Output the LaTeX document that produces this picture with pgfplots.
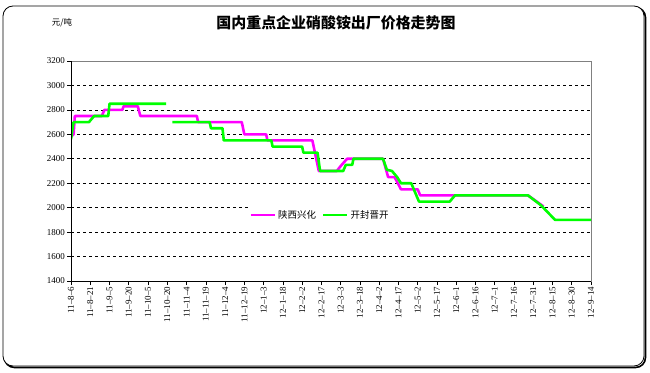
\documentclass[border=0pt]{standalone}
\usepackage{fontspec}
\setmainfont{Liberation Serif}
\newfontfamily\cjk{Noto Sans CJK SC}
\usepackage{pgfplots}
\pgfplotsset{compat=1.18}
\definecolor{mag}{RGB}{255,0,255}
\definecolor{grn}{RGB}{0,255,0}
\begin{document}
\begin{tikzpicture}[x=1bp,y=1bp]
\path[use as bounding box] (0,0) rectangle (650,372);
\draw[black, line width=1.6bp, rounded corners=10bp] (4.5,4.5) rectangle (645.5,364.5);
\draw[black, fill=white, line width=0.8bp, rounded corners=10bp] (3,6) rectangle (644,366);
\node at (336,349) {\cjk\bfseries\fontsize{15}{18}\selectfont 国内重点企业硝酸铵出厂价格走势图};
\node at (62,349) {\cjk\fontsize{8.5}{10}\selectfont 元/吨};
\begin{axis}[
  at={(71bp,91bp)}, anchor=south west,
  scale only axis, width=520bp, height=220bp,
  xmin=0, xmax=405, ymin=1400, ymax=3200,
  xtick={0,15,...,405},
  xticklabels={11--8--6,11--8--21,11--9--5,11--9--20,11--10--5,11--10--20,11--11--4,11--11--19,11--12--4,11--12--19,12--1--3,12--1--18,12--2--2,12--2--17,12--3--3,12--3--18,12--4--2,12--4--17,12--5--2,12--5--17,12--6--1,12--6--16,12--7--1,12--7--16,12--7--31,12--8--15,12--8--30,12--9--14},
  ytick={1400,1600,...,3200},
  /pgf/number format/assume math mode=true,
  /pgf/number format/1000 sep={},
  xticklabel style={rotate=90, anchor=east, font=\fontsize{9}{10}\selectfont, inner sep=1.5bp},
  yticklabel style={font=\fontsize{9}{10}\selectfont, inner sep=2bp},
  tick align=outside, major tick length=4bp,
  xtick pos=left, ytick pos=left,
  tick style={black, line width=0.6bp},
  ymajorgrids, grid style={black, dash pattern=on 3bp off 3bp, line width=0.6bp},
  axis line style={gray, line width=0.6bp},
  unbounded coords=jump,
  legend columns=-1,
  legend style={at={(rel axis cs:0.479,0.30)}, anchor=center, draw=none, fill=white,
    font=\cjk\fontsize{9.5}{11}\selectfont, inner sep=1bp,
    /tikz/every even column/.append style={column sep=4bp}},
  legend image code/.code={\draw[#1] (0bp,0bp) -- (24bp,0bp);},
]
\addplot[mag, line width=2.6bp, line join=round] coordinates {
(0,2580) (2,2600) (3,2750) (24,2750) (26,2800) (40,2800) (41,2830) (52,2830) (54,2750) (98,2750) (99,2700) (133,2700) (135,2600) (152,2600) (153,2550) (188,2550) (193,2300) (207,2300) (210,2340) (215,2400) (243,2400) (247,2250) (252,2250) (257,2150) (270,2150) (272,2100) (356,2100) (368,2010)
};
\addlegendentry{陕西兴化}
\addplot[grn, line width=2.6bp, line join=round] coordinates {
(0,2560) (2,2700) (14,2700) (18,2750) (29,2750) (30,2850) (74,2850) (76,nan) (79,2700) (108,2700) (109,2650) (118,2650) (119,2550) (156,2550) (157,2500) (180,2500) (181,2450) (192,2450) (194,2300) (212,2300) (214,2350) (219,2350) (220,2400) (243,2400) (246,2310) (250,2300) (254,2250) (257,2200) (265,2200) (271,2050) (295,2050) (299,2100) (356,2100) (366,2020) (377,1900) (405,1900)
};
\addlegendentry{开封晋开}
\draw[black, line width=0.6bp] (rel axis cs:0,1) -- (rel axis cs:0,0) -- (rel axis cs:1,0);
\end{axis}
\end{tikzpicture}
\end{document}
